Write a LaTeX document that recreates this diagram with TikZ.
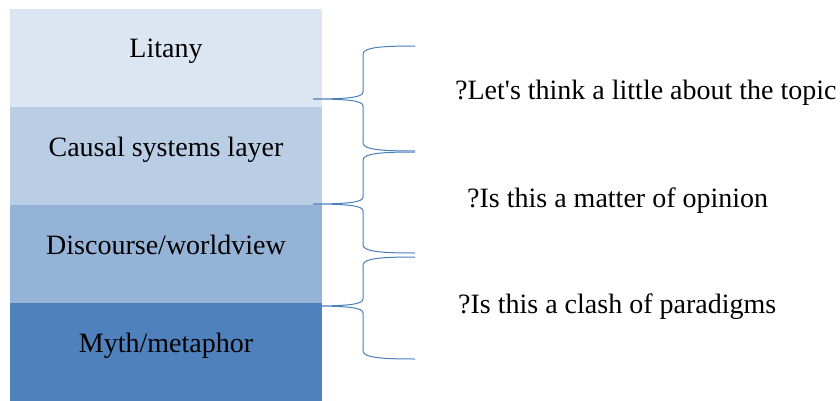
\documentclass[tikz,border=0pt]{standalone}
\usepackage{fontspec}
\setmainfont{Liberation Serif}
\usepackage{xcolor}
\usetikzlibrary{positioning}

\definecolor{layerA}{HTML}{DCE6F2}
\definecolor{layerB}{HTML}{B9CDE5}
\definecolor{layerC}{HTML}{95B3D7}
\definecolor{layerD}{HTML}{4F81BD}
\definecolor{braceblue}{HTML}{4A7EBB}

% brace opening to the left: top y, tip y, bottom y
\newcommand{\sidebrace}[3]{%
  \draw[bracestyle] (415,#1) .. controls (385,#1) and (363,#1-1) .. (363,#1-8)
    -- (363,#2+7) .. controls (363,#2+2) and (350,#2) .. (313,#2)
    .. controls (350,#2) and (363,#2-2) .. (363,#2-7)
    -- (363,#3+8) .. controls (363,#3+1) and (385,#3) .. (415,#3);}

\begin{document}
\begin{tikzpicture}[x=1pt, y=1pt, font=\fontsize{28}{34}\selectfont]
\tikzset{
  layer/.style={rectangle, minimum width=312pt, minimum height=98pt, inner sep=0pt,
    outer sep=0pt, text height=9pt, text depth=9pt},
  question/.style={anchor=base west, inner sep=0pt},
  bracestyle/.style={draw=braceblue, line width=1pt}
}
\useasboundingbox (0,0) rectangle (840,400);

\node (litany) [layer, fill=layerA] at (166,342) {Litany};
\node (causal) [layer, fill=layerB, below=0pt of litany] {Causal systems layer};
\node (discourse) [layer, fill=layerC, below=0pt of causal] {Discourse/worldview};
\node (myth) [layer, fill=layerD, below=0pt of discourse] {Myth/metaphor};

\sidebrace{354}{301}{249}
\sidebrace{248}{196}{147}
\sidebrace{143}{94}{41}

\node (topic) [question] at (455,301) {?Let\textquotesingle s think a little about the topic};
\node (opinion) [question] at (467,193) {?Is this a matter of opinion};
\node (clash) [question] at (458,87) {?Is this a clash of paradigms};
\end{tikzpicture}
\end{document}
